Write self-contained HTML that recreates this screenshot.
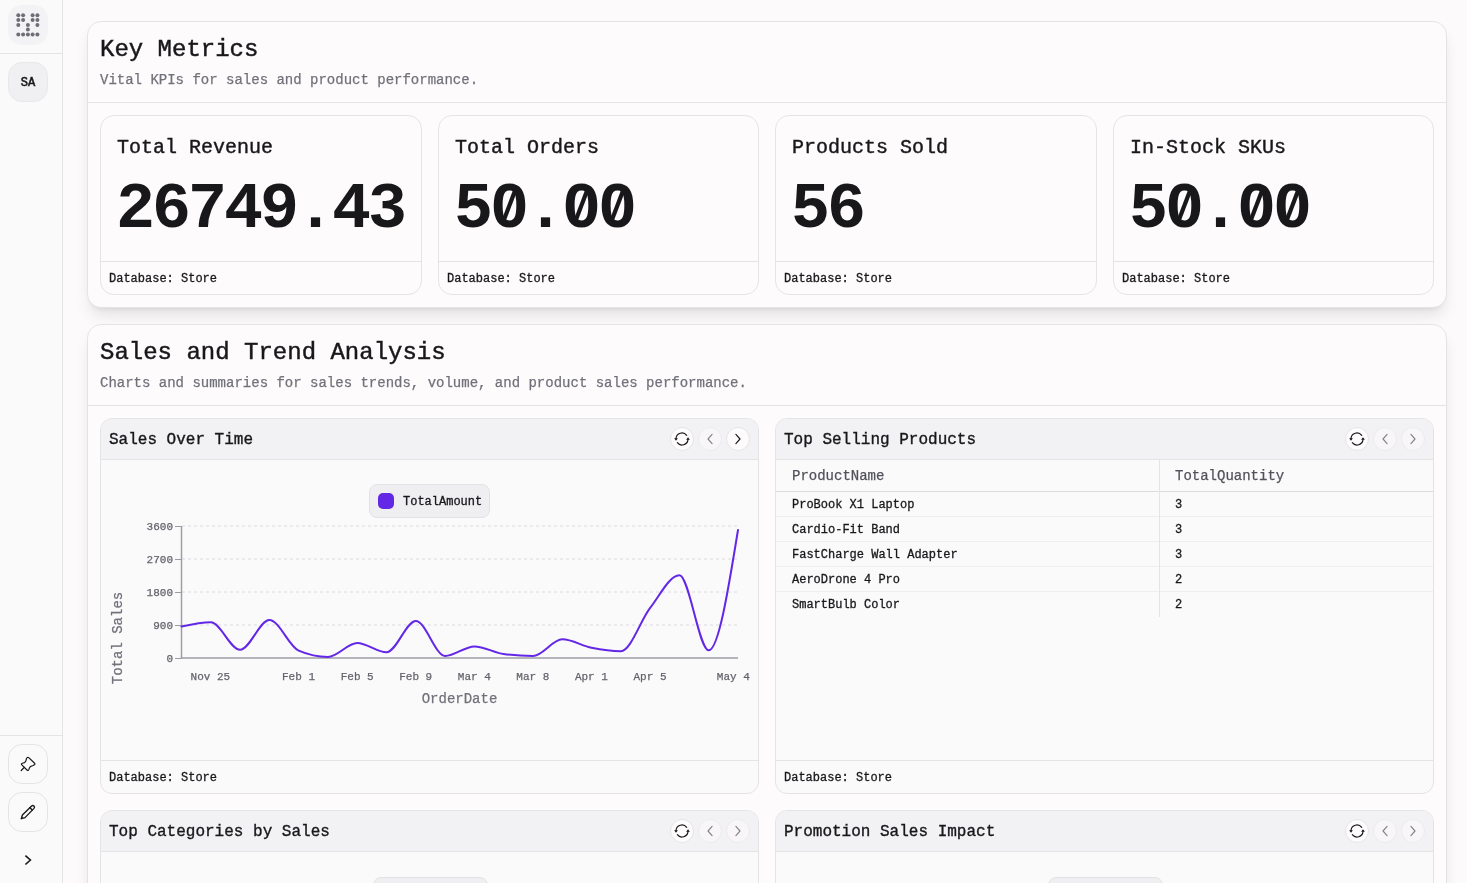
<!DOCTYPE html>
<html><head><meta charset="utf-8"><title>Dashboard</title>
<style>
*{box-sizing:border-box;margin:0;padding:0}
html,body{width:1467px;height:883px;overflow:hidden;background:#fcfafb;font-family:"Liberation Mono",monospace;color:#18181b}
body{position:relative}
#root{position:absolute;left:0;top:0;width:1467px;height:883px;overflow:hidden;will-change:transform;transform:translateZ(0)}
.abs{position:absolute}
.side{position:absolute;left:0;top:0;width:63px;height:883px;border-right:1px solid #e4e4e7;background:#fafafa}
.hl{position:absolute;left:0;width:62px;height:1px;background:#e4e4e7}
.sq{position:absolute;left:8px;width:40px;height:40px;border-radius:14px;display:flex;align-items:center;justify-content:center}
.logo{top:5px;background:#f3f3f5}
.sa{top:62px;background:#f0f0f2;border:1px solid #e8e8eb;font-size:12px;padding-top:2px;-webkit-text-stroke:.55px}
.ob{border:1px solid #e4e4e7;background:#fafafa}
.panel{position:absolute;left:87px;width:1360px;border:1px solid #e4e4e7;border-radius:14px;background:#fdfbfc}
.p1{top:21px;height:287px;box-shadow:0 10px 15px -3px rgba(0,0,0,.10),0 4px 6px -4px rgba(0,0,0,.10)}
.p2{top:324px;height:700px;box-shadow:0 10px 15px -3px rgba(0,0,0,.10),0 4px 6px -4px rgba(0,0,0,.10)}
.pt{-webkit-text-stroke:.45px;position:absolute;left:12px;font-size:24px;line-height:32px;white-space:pre}
.ps{-webkit-text-stroke:.25px;position:absolute;left:12px;font-size:14px;line-height:20px;color:#71717a;white-space:pre}
.pd{position:absolute;left:0;width:1358px;height:1px;background:#e4e4e7}
.kpi{position:absolute;top:115px;width:321.5px;height:180px;border:1px solid #e4e4e7;border-radius:14px;background:#fdfbfc}
.kt{-webkit-text-stroke:.4px;position:absolute;left:16px;top:18px;font-size:20px;line-height:28px;white-space:pre}
.kv{position:absolute;left:15px;top:58px;font-size:65px;line-height:72px;letter-spacing:-3px;font-weight:bold;white-space:pre}
.kf{-webkit-text-stroke:.3px;position:absolute;left:0;right:0;bottom:0;height:33px;border-top:1px solid #e4e4e7;font-size:12px;line-height:16px;padding:9px 0 0 8px;white-space:pre}
.card{position:absolute;width:659px;border:1px solid #e4e4e7;border-radius:12px;background:#fbfafb;overflow:hidden}
.ch{position:absolute;left:0;top:0;right:0;height:41px;background:#f2f1f4;border-bottom:1px solid #e4e4e7}
.ch .t{-webkit-text-stroke:.35px;position:absolute;left:8px;top:9px;font-size:16px;line-height:24px;white-space:pre}
.btns{position:absolute;right:8px;top:8px;display:flex;gap:4px}
.cb{position:relative;width:24px;height:24px;border-radius:12px;border:1px solid #e4e4e7;background:#fdfbfc}
.cb svg{position:absolute;left:-1px;top:-1px}
.cb.dis{opacity:.5}
.cf{-webkit-text-stroke:.3px;position:absolute;left:0;right:0;bottom:0;height:33px;border-top:1px solid #e4e4e7;font-size:12px;line-height:16px;padding:9px 0 0 8px;white-space:pre}
.legend{position:absolute;height:34px;border:1px solid #e2e2e6;border-radius:8px;background:#efeff2}
.sw{position:absolute;left:8px;top:8px;width:16px;height:16px;border-radius:5px;background:#6327e6}
.lt{-webkit-text-stroke:.3px;position:absolute;left:33px;top:9px;font-size:12px;line-height:16px;white-space:pre}
.chart{position:absolute;left:0;top:0;pointer-events:none}
.tk{stroke:#63636b;stroke-width:.25px;font-family:"Liberation Mono",monospace;font-size:11px;fill:#63636b}
.ax{stroke:#71717a;stroke-width:.25px;font-family:"Liberation Mono",monospace;font-size:14px;fill:#71717a}
.th{-webkit-text-stroke:.25px;position:absolute;left:0;right:0;top:41px;height:32px;border-bottom:1px solid #dcdce0;font-size:14px;line-height:20px;color:#52525b}
.th div{position:absolute;top:6px;white-space:pre}
.tr{-webkit-text-stroke:.3px;position:absolute;left:0;right:0;height:25px;border-bottom:1px solid #efeff2;font-size:12px;line-height:16px}
.tr.last{border-bottom:none}
.tr div{position:absolute;top:5px;white-space:pre}
.c1{left:16px}.c2{left:399px}
.vl{position:absolute;left:383px;top:41px;width:1px;height:157px;background:#e4e4e7}
</style></head><body><div id="root">
<div class="side">
 <div class="sq logo"><svg width="40" height="40" viewBox="0 0 40 40" fill="#6e6e78"><circle cx="10.3" cy="10.2" r="2"/><circle cx="15.1" cy="10.2" r="2"/><circle cx="24.6" cy="10.2" r="2"/><circle cx="29.4" cy="10.2" r="2"/><circle cx="10.3" cy="15.1" r="2"/><circle cx="15.1" cy="15.1" r="2"/><circle cx="24.6" cy="15.1" r="2"/><circle cx="29.4" cy="15.1" r="2"/><circle cx="10.3" cy="19.9" r="2"/><circle cx="19.9" cy="19.9" r="2"/><circle cx="29.4" cy="19.9" r="2"/><circle cx="19.9" cy="24.6" r="2"/><circle cx="10.3" cy="29.5" r="2"/><circle cx="15.1" cy="29.5" r="2"/><circle cx="19.9" cy="29.5" r="2"/><circle cx="24.6" cy="29.5" r="2"/><circle cx="29.4" cy="29.5" r="2"/></svg></div>
 <div class="hl" style="top:53px"></div>
 <div class="sq sa">SA</div>
 <div class="hl" style="top:735px"></div>
 <div class="sq ob" style="top:744px"><svg width="40" height="40" viewBox="0 0 40 40" fill="none" stroke="#18181b" stroke-width="1.2" stroke-linecap="round" stroke-linejoin="round" style="position:absolute;left:-1px;top:-1px"><path d="M18.9,13.9Q19.9,12.7 21,13.8L26.4,19Q27.5,20 26.3,20.8L25.2,21.5Q22.6,22.3 22,23Q21.4,23.8 20.9,25.4Q20.2,27.2 19,26L13.8,20.8Q12.9,19.9 14.3,19.3Q16.6,18.6 17.3,17.8Q18,17 18.4,14.8Q18.5,14.3 18.9,13.9Z"/><path d="M16.2,23.5L13.2,26.5"/></svg></div>
 <div class="sq ob" style="top:792px"><svg width="40" height="40" viewBox="0 0 40 40" fill="none" stroke="#18181b" stroke-width="1.35" stroke-linecap="round" stroke-linejoin="round" style="position:absolute;left:-1px;top:-1px"><path d="M13.3,26.7L14.4,23L23.6,14A1.7,1.7 0 0 1 26,16.4L17,25.6Z"/><path d="M21.8,15.6L24.2,18"/></svg></div>
 <div class="abs" style="left:8px;top:840px"><svg width="40" height="40" viewBox="0 0 40 40" fill="none" stroke="#18181b" stroke-width="1.6" stroke-linecap="butt" stroke-linejoin="miter"><path d="M17.4,15.6L22.4,20L17.4,24.5"/></svg></div>
</div>

<div class="panel p1">
 <div class="pt" style="top:12px">Key Metrics</div>
 <div class="ps" style="top:48px">Vital KPIs for sales and product performance.</div>
 <div class="pd" style="top:80px"></div>
</div>
<div class="kpi" style="left:100px;width:322px"><div class="kt">Total Revenue</div><div class="kv">26749.43</div><div class="kf">Database: Store</div></div>
<div class="kpi" style="left:438px;width:321px"><div class="kt">Total Orders</div><div class="kv">50.00</div><svg style="position:absolute;left:0;top:0" width="320" height="178"><rect x="65.9" y="83.9" width="9.2" height="10.4" fill="#fdfbfc"/><line x1="64.6" y1="104.8" x2="76.4" y2="73.8" stroke="#18181b" stroke-width="4.2"/><rect x="137.9" y="83.9" width="9.2" height="10.4" fill="#fdfbfc"/><line x1="136.6" y1="104.8" x2="148.4" y2="73.8" stroke="#18181b" stroke-width="4.2"/><rect x="173.9" y="83.9" width="9.2" height="10.4" fill="#fdfbfc"/><line x1="172.6" y1="104.8" x2="184.4" y2="73.8" stroke="#18181b" stroke-width="4.2"/></svg><div class="kf">Database: Store</div></div>
<div class="kpi" style="left:775px;width:322px"><div class="kt">Products Sold</div><div class="kv">56</div><div class="kf">Database: Store</div></div>
<div class="kpi" style="left:1113px;width:321px"><div class="kt">In-Stock SKUs</div><div class="kv">50.00</div><svg style="position:absolute;left:0;top:0" width="320" height="178"><rect x="65.9" y="83.9" width="9.2" height="10.4" fill="#fdfbfc"/><line x1="64.6" y1="104.8" x2="76.4" y2="73.8" stroke="#18181b" stroke-width="4.2"/><rect x="137.9" y="83.9" width="9.2" height="10.4" fill="#fdfbfc"/><line x1="136.6" y1="104.8" x2="148.4" y2="73.8" stroke="#18181b" stroke-width="4.2"/><rect x="173.9" y="83.9" width="9.2" height="10.4" fill="#fdfbfc"/><line x1="172.6" y1="104.8" x2="184.4" y2="73.8" stroke="#18181b" stroke-width="4.2"/></svg><div class="kf">Database: Store</div></div>

<div class="panel p2">
 <div class="pt" style="top:12px">Sales and Trend Analysis</div>
 <div class="ps" style="top:48px">Charts and summaries for sales trends, volume, and product sales performance.</div>
 <div class="pd" style="top:80px"></div>
</div>

<div class="card" style="left:100px;top:418px;height:376px">
 <div class="ch"><div class="t">Sales Over Time</div><div class="btns"><div class="cb"><svg width="24" height="24" viewBox="0 0 24 24" fill="none" stroke="#18181b" stroke-width="1.15" stroke-linecap="round" stroke-linejoin="round"><path d="M6,11.6A6,6 0 0 1 16.7,8.3"/><path d="M18,12.4A6,6 0 0 1 7.3,15.7"/><polygon points="4.1,11.2 7.9,11.2 6,13.8" fill="#18181b" stroke="none"/><polygon points="16.1,12.8 19.9,12.8 18,10.2" fill="#18181b" stroke="none"/></svg></div><div class="cb dis"><svg width="24" height="24" viewBox="0 0 24 24" fill="none" stroke="#18181b" stroke-width="1.15" stroke-linecap="round" stroke-linejoin="round"><path d="M14.1,7.4L10,12L14.1,16.6"/></svg></div><div class="cb"><svg width="24" height="24" viewBox="0 0 24 24" fill="none" stroke="#18181b" stroke-width="1.15" stroke-linecap="round" stroke-linejoin="round"><path d="M9.9,7.4L14,12L9.9,16.6"/></svg></div></div></div>
 <div class="legend" style="left:268px;top:65px;width:121px"><div class="sw"></div><div class="lt">TotalAmount</div></div>
 <div class="cf">Database: Store</div>
</div>
<div class="card" style="left:775px;top:418px;height:376px">
 <div class="ch"><div class="t">Top Selling Products</div><div class="btns"><div class="cb"><svg width="24" height="24" viewBox="0 0 24 24" fill="none" stroke="#18181b" stroke-width="1.15" stroke-linecap="round" stroke-linejoin="round"><path d="M6,11.6A6,6 0 0 1 16.7,8.3"/><path d="M18,12.4A6,6 0 0 1 7.3,15.7"/><polygon points="4.1,11.2 7.9,11.2 6,13.8" fill="#18181b" stroke="none"/><polygon points="16.1,12.8 19.9,12.8 18,10.2" fill="#18181b" stroke="none"/></svg></div><div class="cb dis"><svg width="24" height="24" viewBox="0 0 24 24" fill="none" stroke="#18181b" stroke-width="1.15" stroke-linecap="round" stroke-linejoin="round"><path d="M14.1,7.4L10,12L14.1,16.6"/></svg></div><div class="cb dis"><svg width="24" height="24" viewBox="0 0 24 24" fill="none" stroke="#18181b" stroke-width="1.15" stroke-linecap="round" stroke-linejoin="round"><path d="M9.9,7.4L14,12L9.9,16.6"/></svg></div></div></div>
 <div class="th"><div style="left:16px">ProductName</div><div style="left:399px">TotalQuantity</div></div>
 <div class="tr" style="top:73px"><div class="c1">ProBook X1 Laptop</div><div class="c2">3</div></div><div class="tr" style="top:98px"><div class="c1">Cardio-Fit Band</div><div class="c2">3</div></div><div class="tr" style="top:123px"><div class="c1">FastCharge Wall Adapter</div><div class="c2">3</div></div><div class="tr" style="top:148px"><div class="c1">AeroDrone 4 Pro</div><div class="c2">2</div></div><div class="tr last" style="top:173px"><div class="c1">SmartBulb Color</div><div class="c2">2</div></div>
 <div class="vl"></div>
 <div class="cf">Database: Store</div>
</div>

<div class="card" style="left:100px;top:810px;height:200px">
 <div class="ch"><div class="t">Top Categories by Sales</div><div class="btns"><div class="cb"><svg width="24" height="24" viewBox="0 0 24 24" fill="none" stroke="#18181b" stroke-width="1.15" stroke-linecap="round" stroke-linejoin="round"><path d="M6,11.6A6,6 0 0 1 16.7,8.3"/><path d="M18,12.4A6,6 0 0 1 7.3,15.7"/><polygon points="4.1,11.2 7.9,11.2 6,13.8" fill="#18181b" stroke="none"/><polygon points="16.1,12.8 19.9,12.8 18,10.2" fill="#18181b" stroke="none"/></svg></div><div class="cb dis"><svg width="24" height="24" viewBox="0 0 24 24" fill="none" stroke="#18181b" stroke-width="1.15" stroke-linecap="round" stroke-linejoin="round"><path d="M14.1,7.4L10,12L14.1,16.6"/></svg></div><div class="cb dis"><svg width="24" height="24" viewBox="0 0 24 24" fill="none" stroke="#18181b" stroke-width="1.15" stroke-linecap="round" stroke-linejoin="round"><path d="M9.9,7.4L14,12L9.9,16.6"/></svg></div></div></div>
 <div class="legend" style="left:272px;top:66px;width:115px"></div>
</div>
<div class="card" style="left:775px;top:810px;height:200px">
 <div class="ch"><div class="t">Promotion Sales Impact</div><div class="btns"><div class="cb"><svg width="24" height="24" viewBox="0 0 24 24" fill="none" stroke="#18181b" stroke-width="1.15" stroke-linecap="round" stroke-linejoin="round"><path d="M6,11.6A6,6 0 0 1 16.7,8.3"/><path d="M18,12.4A6,6 0 0 1 7.3,15.7"/><polygon points="4.1,11.2 7.9,11.2 6,13.8" fill="#18181b" stroke="none"/><polygon points="16.1,12.8 19.9,12.8 18,10.2" fill="#18181b" stroke="none"/></svg></div><div class="cb dis"><svg width="24" height="24" viewBox="0 0 24 24" fill="none" stroke="#18181b" stroke-width="1.15" stroke-linecap="round" stroke-linejoin="round"><path d="M14.1,7.4L10,12L14.1,16.6"/></svg></div><div class="cb dis"><svg width="24" height="24" viewBox="0 0 24 24" fill="none" stroke="#18181b" stroke-width="1.15" stroke-linecap="round" stroke-linejoin="round"><path d="M9.9,7.4L14,12L9.9,16.6"/></svg></div></div></div>
 <div class="legend" style="left:272px;top:66px;width:115px"></div>
</div>
<svg class="chart" width="1467" height="883" viewBox="0 0 1467 883">
<line x1="182" y1="526" x2="738" y2="526" stroke="#dadadf" stroke-width="1" stroke-dasharray="3 3"/><line x1="182" y1="559" x2="738" y2="559" stroke="#dadadf" stroke-width="1" stroke-dasharray="3 3"/><line x1="182" y1="592" x2="738" y2="592" stroke="#dadadf" stroke-width="1" stroke-dasharray="3 3"/><line x1="182" y1="625" x2="738" y2="625" stroke="#dadadf" stroke-width="1" stroke-dasharray="3 3"/>
<line x1="181.5" y1="526" x2="181.5" y2="658.7" stroke="#9d9da6" stroke-width="1.5"/>
<line x1="180.8" y1="658" x2="738" y2="658" stroke="#9d9da6" stroke-width="1.5"/>
<line x1="175" y1="526.5" x2="181" y2="526.5" stroke="#9a9aa2" stroke-width="1"/><text x="173" y="530" text-anchor="end" class="tk">3600</text><line x1="175" y1="559.5" x2="181" y2="559.5" stroke="#9a9aa2" stroke-width="1"/><text x="173" y="563" text-anchor="end" class="tk">2700</text><line x1="175" y1="592.5" x2="181" y2="592.5" stroke="#9a9aa2" stroke-width="1"/><text x="173" y="596" text-anchor="end" class="tk">1800</text><line x1="175" y1="625.5" x2="181" y2="625.5" stroke="#9a9aa2" stroke-width="1"/><text x="173" y="629" text-anchor="end" class="tk">900</text><line x1="175" y1="658.5" x2="181" y2="658.5" stroke="#9a9aa2" stroke-width="1"/><text x="173" y="662" text-anchor="end" class="tk">0</text><text x="210.4" y="680" text-anchor="middle" class="tk">Nov 25</text><text x="298.5" y="680" text-anchor="middle" class="tk">Feb 1</text><text x="357.2" y="680" text-anchor="middle" class="tk">Feb 5</text><text x="415.7" y="680" text-anchor="middle" class="tk">Feb 9</text><text x="474.3" y="680" text-anchor="middle" class="tk">Mar 4</text><text x="532.8" y="680" text-anchor="middle" class="tk">Mar 8</text><text x="591.4" y="680" text-anchor="middle" class="tk">Apr 1</text><text x="650" y="680" text-anchor="middle" class="tk">Apr 5</text><text x="733.3" y="680" text-anchor="middle" class="tk">May 4</text>
<text x="459.5" y="703" text-anchor="middle" class="ax">OrderDate</text>
<text transform="translate(122,638) rotate(-90)" text-anchor="middle" class="ax">Total Sales</text>
<path d="M181.50,626.60C191.26,624.45,201.03,622.30,210.79,622.30C220.55,622.30,230.32,649.80,240.08,649.80C249.84,649.80,259.61,620.00,269.37,620.00C279.13,620.00,288.89,646.40,298.66,650.60C308.42,654.80,318.18,656.90,327.95,656.90C337.71,656.90,347.47,643.00,357.24,643.00C367.00,643.00,376.76,652.30,386.53,652.30C396.29,652.30,406.05,620.90,415.82,620.90C425.58,620.90,435.34,656.00,445.11,656.00C454.87,656.00,464.63,646.40,474.39,646.40C484.16,646.40,493.92,652.67,503.68,654.00C513.45,655.33,523.21,656.00,532.97,656.00C542.74,656.00,552.50,639.30,562.26,639.30C572.03,639.30,581.79,645.82,591.55,647.80C601.32,649.78,611.08,651.20,620.84,651.20C630.61,651.20,640.37,620.55,650.13,607.90C659.89,595.25,669.66,575.30,679.42,575.30C689.18,575.30,698.95,650.30,708.71,650.30C718.47,650.30,728.24,590.15,738.00,530.00" fill="none" stroke="#6327e6" stroke-width="2" stroke-linecap="round" stroke-linejoin="round"/>
</svg>
</div></body></html>
